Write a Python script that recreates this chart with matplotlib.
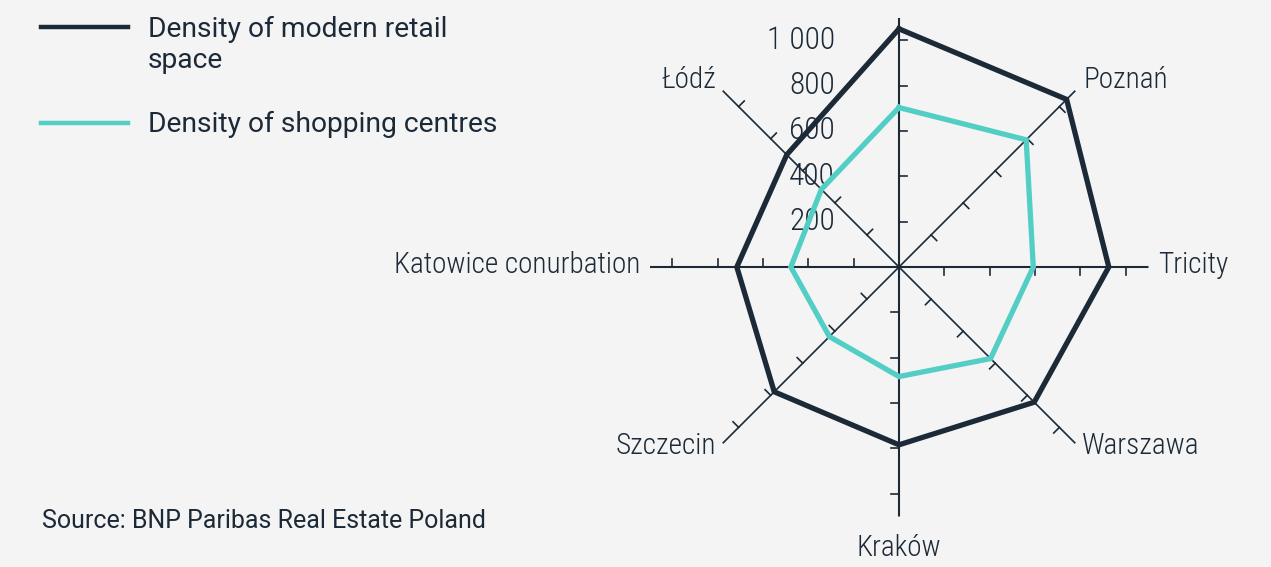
import numpy as np
import matplotlib.pyplot as plt
from matplotlib.lines import Line2D
from matplotlib import font_manager

# density per city, read off the radar (top axis has no visible label)
cities = ['', 'Poznań', 'Tricity', 'Warszawa', 'Kraków', 'Szczecin',
          'Katowice conurbation', 'Łódź']
retail_space = [1050, 1045, 925, 843, 784, 778, 715, 700]
shopping_centres = [703, 793, 592, 571, 483, 434, 477, 484]
radial_ticks = [200, 400, 600, 800, 1000]
r_max = 1100

W, H = 1271, 567
navy = '#1c2a38'
teal = '#52cec5'
bg = '#f4f4f4'

installed = {f.name for f in font_manager.fontManager.ttflist}
narrow = [f for f in ['Roboto Condensed', 'DejaVu Sans Condensed',
                      'Liberation Sans Narrow', 'Open Sans Condensed']
          if f in installed]
cond = narrow[:1] + ['Roboto', 'DejaVu Sans']
body = ['Roboto', 'DejaVu Sans']

fig = plt.figure(figsize=(W / 100, H / 100), dpi=100, facecolor=bg)

# polar axes centred on (899, 267) px, radius 249.5 px for r_max
cx, cy, rad = 899, 267, 249.5
ax = fig.add_axes([(cx - rad) / W, (H - cy - rad) / H, 2 * rad / W, 2 * rad / H],
                  projection='polar')
ax.set_theta_offset(np.pi / 2)
ax.set_theta_direction(-1)
ax.set_ylim(0, r_max)
ax.axis('off')

theta = np.arange(len(cities)) * 2 * np.pi / len(cities)

# spokes with small clockwise ticks
tick_len = 35
for i, t in enumerate(theta):
    ax.plot([t, t], [0, r_max], color=navy, lw=1.5 if i % 2 == 0 else 1.2,
            solid_capstyle='butt')
    for r in radial_ticks:
        ax.plot([t, t + np.arctan(tick_len / r)], [r, np.hypot(r, tick_len)],
                color=navy, lw=1.2)

th = np.append(theta, theta[0])
ax.plot(th, retail_space + retail_space[:1], color=navy, lw=3.8,
        solid_joinstyle='miter', zorder=5)
ax.plot(th, shopping_centres + shopping_centres[:1], color=teal, lw=3.8,
        solid_joinstyle='miter', zorder=4)

# value labels along the top spoke
value_txt = []
for r in radial_ticks:
    value_txt.append(ax.annotate(f'{r:,}'.replace(',', ' '), xy=(0, r),
                                 xytext=(-46, 0), textcoords='offset points',
                                 ha='right', va='center', fontsize=20,
                                 color=navy, family=cond, weight='light'))

# category labels: (ha, va, dx, dy) in px from spoke end
placement = [None,
             ('left', 'center', 8, 11),
             ('left', 'center', 10, 2),
             ('left', 'center', 7, -3),
             ('center', 'top', 0, -17),
             ('right', 'center', -6, -3),
             ('right', 'center', -9, 2),
             ('right', 'center', -6, 11)]
cat_txt = []
for t, name, p in zip(theta, cities, placement):
    if not name:
        continue
    ha, va, dx, dy = p
    cat_txt.append(ax.annotate(name, xy=(t, r_max), xytext=(dx * 0.72, dy * 0.72),
                               textcoords='offset points', ha=ha, va=va,
                               fontsize=22, color=navy, family=cond,
                               weight='light'))

# legend drawn by hand (label wraps onto two lines)
def px(x, y):
    return x / W, 1 - y / H

for y, col in [(27, navy), (122.5, teal)]:
    (x0, y0), (x1, _) = px(41, y), px(128, y)
    fig.add_artist(Line2D([x0, x1], [y0, y0], color=col, lw=3.2,
                          transform=fig.transFigure))
leg_txt = [fig.text(*px(148, 37), 'Density of modern retail'),
           fig.text(*px(148, 68), 'space'),
           fig.text(*px(148, 132), 'Density of shopping centres')]
for t in leg_txt:
    t.set(fontsize=20.3, color=navy, family=body, va='baseline')

fig.text(*px(42, 528), 'Source: BNP Paribas Real Estate Poland', fontsize=18,
         color=navy, family=body, va='baseline')

# shrink the condensed labels to the widths seen in the reference
fig.canvas.draw()
rend = fig.canvas.get_renderer()
k = 247 / cat_txt[5].get_window_extent(rend).width
for t in cat_txt:
    t.set_fontsize(22 * k)
k = 68 / value_txt[-1].get_window_extent(rend).width
for t in value_txt:
    t.set_fontsize(20 * k)

fig.savefig('out.png', dpi=100, facecolor=fig.get_facecolor())
